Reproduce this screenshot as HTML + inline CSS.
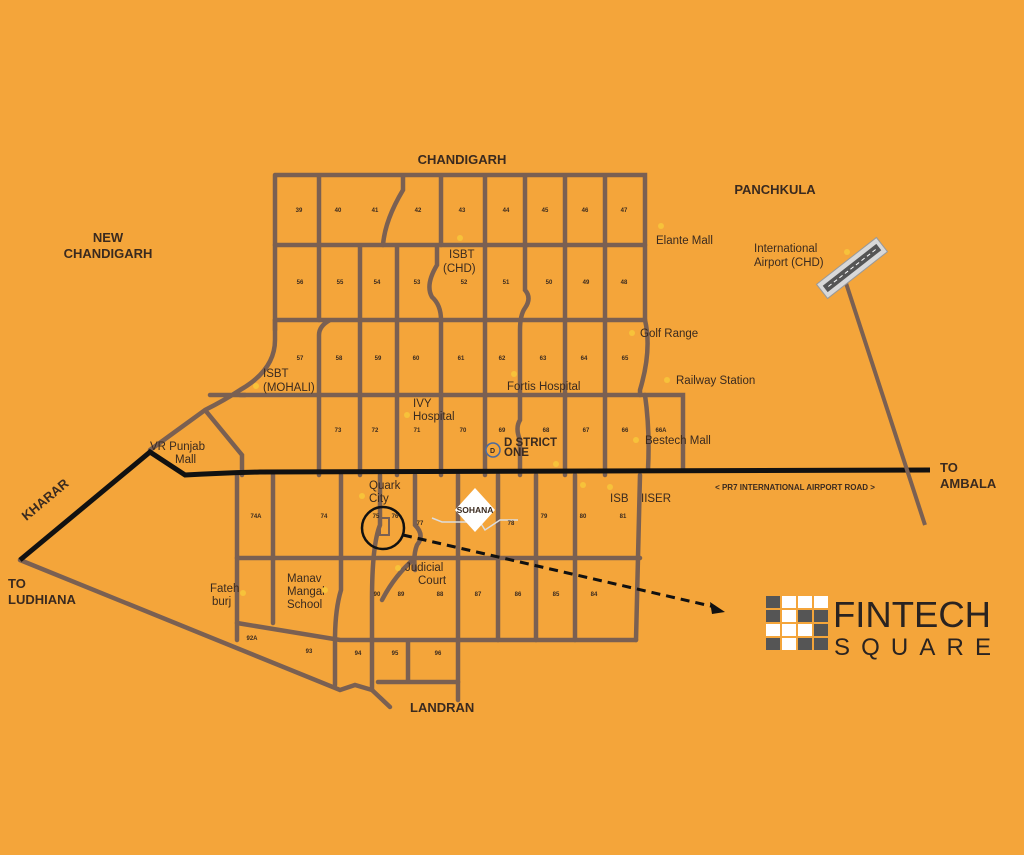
<!DOCTYPE html>
<html><head><style>
body{margin:0;background:#F4A53A}
svg{display:block}
text{font-family:"Liberation Sans",sans-serif;fill:#3a2a1f}
.b{font-weight:bold;font-size:13px}
.l{font-size:11.5px}
.n{font-size:6px;font-weight:bold}
</style></head><body>
<svg width="1024" height="855" viewBox="0 0 1024 855" xmlns="http://www.w3.org/2000/svg">
<rect width="1024" height="855" fill="#F4A53A"/>
<g stroke="#7a6052" stroke-width="4.5" fill="none" stroke-linecap="round">
<!-- top grid -->
<path d="M275 175H645V320M275 175V330M319 175V320M403 175V190Q385 220 383 245M441 175V245M485 175V475M525 175V245M565 175V475M605 175V475"/>
<path d="M275 245H645M360 245V475M397 245V475M437 245V265Q425 285 432 297Q441 305 441 320V475M525 245V290Q532 298 525 308Q520 315 520 330V420Q515 428 520 440V475"/>
<path d="M275 320H645Q652 350 640 390V395M330 320Q319 326 319 335V475M645 395Q650 430 648 470"/>
<path d="M240 395H683V470M319 320"/>
<path d="M275 320V340Q275 370 240 390Q225 400 205 410L150 450M205 410L242 455V475M210 395H245"/>
<!-- bottom grid -->
<path d="M237 475V640M273 475V623M341 475V590Q335 610 335 640V685M380 475V525Q372 545 372 600V640V690M415 475V525Q425 535 417 545Q413 555 415 570M458 475V700M498 475V640M536 475V640M575 475V640M640 475L636 640"/>
<path d="M237 558H640M237 623Q280 630 340 640H636M415 558Q395 575 382 600M408 640V680M378 682H458"/>
<path d="M20 560L340 690L355 685L372 690L390 707"/>
</g>
<!-- black roads -->
<path d="M20 560L150 452L185 475Q220 473 260 472L930 470" stroke="#111" stroke-width="5" fill="none"/>
<!-- airport line -->
<path d="M845 280L925 525" stroke="#7a6052" stroke-width="4"/>
<g transform="translate(852,268) rotate(-38)">
<rect x="-38" y="-9" width="76" height="18" fill="#d8d8d8" stroke="#999"/>
<rect x="-34" y="-4" width="68" height="8" fill="#555"/>
<line x1="-30" y1="0" x2="30" y2="0" stroke="#fff" stroke-dasharray="4 3"/>
</g>
<!-- circle + dashed arrow -->
<circle cx="383" cy="528" r="21" fill="none" stroke="#111" stroke-width="2.5"/>
<rect x="380" y="518" width="9" height="17" fill="none" stroke="#7a6052" stroke-width="2"/>
<path d="M403 535L715 607" stroke="#111" stroke-width="3" stroke-dasharray="9 6"/>
<path d="M725 612L710 602L712 614Z" fill="#111"/>
<!-- sohana -->
<path d="M432 518L442 522L480 522L485 530L500 520L518 520" stroke="#ddd" stroke-width="1.5" fill="none"/>
<path d="M475 488L495 510L475 532L455 510Z" fill="#fff"/>
<text x="475" y="513" text-anchor="middle" style="font-size:8.5px;font-weight:bold">SOHANA</text>
<!-- district one -->
<circle cx="493" cy="450" r="7" fill="#F4A53A" stroke="#4a6aa0" stroke-width="1.5"/>
<text x="490" y="453" style="font-size:7px;font-weight:bold">D</text>
<text x="504" y="446" class="l" style="font-weight:bold">D STRICT</text>
<text x="504" y="456" class="l" style="font-weight:bold">ONE</text>
<!-- big labels -->
<text x="462" y="164" class="b" text-anchor="middle">CHANDIGARH</text>
<text x="775" y="194" class="b" text-anchor="middle">PANCHKULA</text>
<text x="108" y="242" class="b" text-anchor="middle">NEW</text>
<text x="108" y="258" class="b" text-anchor="middle">CHANDIGARH</text>
<text x="48" y="503" class="b" transform="rotate(-40 48 503)" text-anchor="middle">KHARAR</text>
<text x="8" y="588" class="b">TO</text>
<text x="8" y="604" class="b">LUDHIANA</text>
<text x="940" y="472" class="b">TO</text>
<text x="940" y="488" class="b">AMBALA</text>
<text x="410" y="712" class="b">LANDRAN</text>
<text x="795" y="490" style="font-size:8px;font-weight:bold" text-anchor="middle">&lt; PR7 INTERNATIONAL AIRPORT ROAD &gt;</text>
<!-- places -->
<g class="l">
<text x="656" y="244" class="l">Elante Mall</text>
<text x="754" y="252" class="l">International</text>
<text x="754" y="266" class="l">Airport (CHD)</text>
<text x="640" y="337" class="l">Golf Range</text>
<text x="676" y="384" class="l">Railway Station</text>
<text x="645" y="444" class="l">Bestech Mall</text>
<text x="507" y="390" class="l">Fortis Hospital</text>
<text x="449" y="258" class="l">ISBT</text>
<text x="443" y="272" class="l">(CHD)</text>
<text x="263" y="377" class="l">ISBT</text>
<text x="263" y="391" class="l">(MOHALI)</text>
<text x="413" y="407" class="l">IVY</text>
<text x="413" y="420" class="l">Hospital</text>
<text x="150" y="450" class="l">VR Punjab</text>
<text x="175" y="463" class="l">Mall</text>
<text x="369" y="489" class="l">Quark</text>
<text x="369" y="502" class="l">City</text>
<text x="610" y="502" class="l">ISB</text>
<text x="641" y="502" class="l">IISER</text>
<text x="405" y="571" class="l">Judicial</text>
<text x="418" y="584" class="l">Court</text>
<text x="287" y="582" class="l">Manav</text>
<text x="287" y="595" class="l">Mangal</text>
<text x="287" y="608" class="l">School</text>
<text x="210" y="592" class="l">Fateh</text>
<text x="212" y="605" class="l">burj</text>
</g>
<!-- dots -->
<g fill="#f7c23a">
<circle cx="460" cy="238" r="3"/><circle cx="661" cy="226" r="3"/><circle cx="632" cy="333" r="3"/><circle cx="667" cy="380" r="3"/><circle cx="636" cy="440" r="3"/><circle cx="514" cy="374" r="3"/><circle cx="407" cy="415" r="3"/><circle cx="256" cy="386" r="3"/><circle cx="556" cy="464" r="3"/><circle cx="847" cy="252" r="3"/><circle cx="362" cy="496" r="3"/><circle cx="398" cy="568" r="3"/><circle cx="325" cy="590" r="3"/><circle cx="243" cy="593" r="3"/><circle cx="583" cy="485" r="3"/><circle cx="610" cy="487" r="3"/>
</g>
<!-- sector numbers -->
<g class="n" text-anchor="middle">
<text x="299" y="212">39</text><text x="338" y="212">40</text><text x="375" y="212">41</text><text x="418" y="212">42</text><text x="462" y="212">43</text><text x="506" y="212">44</text><text x="545" y="212">45</text><text x="585" y="212">46</text><text x="624" y="212">47</text>
<text x="300" y="284">56</text><text x="340" y="284">55</text><text x="377" y="284">54</text><text x="417" y="284">53</text><text x="464" y="284">52</text><text x="506" y="284">51</text><text x="549" y="284">50</text><text x="586" y="284">49</text><text x="624" y="284">48</text>
<text x="300" y="360">57</text><text x="339" y="360">58</text><text x="378" y="360">59</text><text x="416" y="360">60</text><text x="461" y="360">61</text><text x="502" y="360">62</text><text x="543" y="360">63</text><text x="584" y="360">64</text><text x="625" y="360">65</text>
<text x="338" y="432">73</text><text x="375" y="432">72</text><text x="417" y="432">71</text><text x="463" y="432">70</text><text x="502" y="432">69</text><text x="546" y="432">68</text><text x="586" y="432">67</text><text x="625" y="432">66</text><text x="661" y="432">66A</text>
<text x="256" y="518">74A</text><text x="324" y="518">74</text><text x="376" y="518">75</text><text x="395" y="518">76</text><text x="420" y="525">77</text><text x="511" y="525">78</text><text x="517" y="518"> </text><text x="516" y="518"> </text><text x="516" y="518"></text>
<text x="517" y="518"></text><text x="516" y="518"></text>
<text x="516" y="518"></text>
<text x="516" y="518"></text>
<text x="517" y="518"></text>
<text x="516" y="518"></text>
<text x="544" y="518">79</text><text x="583" y="518">80</text><text x="623" y="518">81</text>
<text x="377" y="596">90</text><text x="401" y="596">89</text><text x="440" y="596">88</text><text x="478" y="596">87</text><text x="518" y="596">86</text><text x="556" y="596">85</text><text x="594" y="596">84</text>
<text x="252" y="640">92A</text><text x="309" y="653">93</text><text x="358" y="655">94</text><text x="395" y="655">95</text><text x="438" y="655">96</text>
</g>
<!-- logo -->
<g>
<rect x="766" y="596" width="14" height="12" fill="#555"/><rect x="782" y="596" width="14" height="12" fill="#fff"/><rect x="798" y="596" width="14" height="12" fill="#fff"/><rect x="814" y="596" width="14" height="12" fill="#fff"/>
<rect x="766" y="610" width="14" height="12" fill="#555"/><rect x="782" y="610" width="14" height="12" fill="#fff"/><rect x="798" y="610" width="14" height="12" fill="#555"/><rect x="814" y="610" width="14" height="12" fill="#555"/>
<rect x="766" y="624" width="14" height="12" fill="#fff"/><rect x="782" y="624" width="14" height="12" fill="#fff"/><rect x="798" y="624" width="14" height="12" fill="#fff"/><rect x="814" y="624" width="14" height="12" fill="#555"/>
<rect x="766" y="638" width="14" height="12" fill="#555"/><rect x="782" y="638" width="14" height="12" fill="#fff"/><rect x="798" y="638" width="14" height="12" fill="#555"/><rect x="814" y="638" width="14" height="12" fill="#555"/>
<text x="833" y="627" style="font-size:36px;fill:#2a2320" textLength="158" lengthAdjust="spacingAndGlyphs">FINTECH</text>
<text x="834" y="655" style="font-size:24px;fill:#2a2320" textLength="157" lengthAdjust="spacing">SQUARE</text>
</g>
</svg>
</body></html>
